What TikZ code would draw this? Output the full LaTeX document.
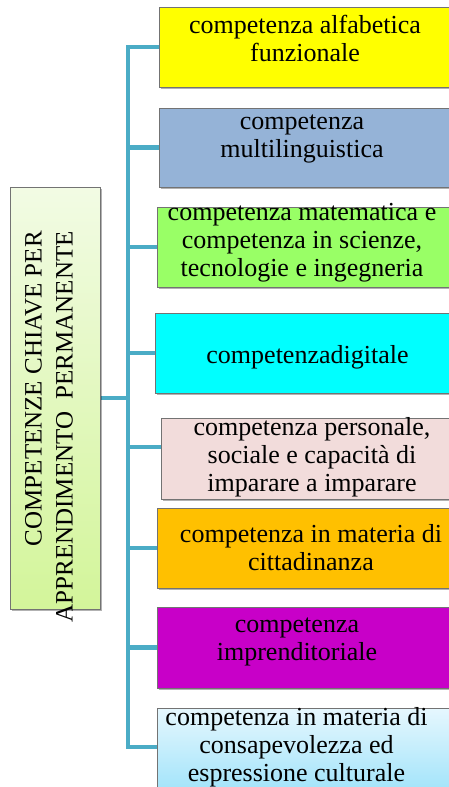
\documentclass[tikz,border=0pt]{standalone}
\usepackage{fontspec}
\setmainfont{Liberation Serif}
\usetikzlibrary{shadows,backgrounds}

\definecolor{branchblue}{HTML}{4BACC6}
\definecolor{alfafill}{HTML}{FFFF00}
\definecolor{multifill}{HTML}{95B3D7}
\definecolor{matefill}{HTML}{99FF66}
\definecolor{digifill}{HTML}{00FFFF}
\definecolor{persfill}{HTML}{F2DCDB}
\definecolor{cittfill}{HTML}{FFC000}
\definecolor{imprfill}{HTML}{C800C8}
\definecolor{culttop}{HTML}{E6F7FE}
\definecolor{cultbottom}{HTML}{A3E4FA}
\definecolor{roottop}{HTML}{F2FBE4}
\definecolor{rootbottom}{HTML}{D3F59A}

\tikzset{
  compbox/.style={rectangle, draw=black!55, line width=0.8pt, minimum width=300pt,
    minimum height=80pt, inner sep=0pt,
    drop shadow={shadow xshift=1.5pt, shadow yshift=-2pt, opacity=0.3, fill=black}},
  comptext/.style={align=center, font=\fontsize{26}{28}\selectfont, inner sep=0pt},
  roottext/.style={align=right, rotate=90, font=\fontsize{25}{31}\selectfont, inner sep=0pt},
  branch/.style={draw=branchblue, line width=4.5pt, line cap=rect},
}

\begin{document}
\begin{tikzpicture}[x=1pt,y=1pt]
\useasboundingbox (0,0) rectangle (449,-787);

% root box
\node[compbox, minimum width=90pt, minimum height=422pt, top color=roottop, bottom color=rootbottom]
  (root) at (55,-398) {};
\node[roottext, anchor=east] (root-txt) at (49,-231) {COMPETENZE CHIAVE PER\\APPRENDIMENTO~~PERMANENTE};

% competence boxes (right edges run past the page)
\node[compbox, minimum width=298pt, fill=alfafill] (alfa) at (308,-47) {};
\node[compbox, minimum width=298pt, minimum height=79pt, fill=multifill] (multi) at (308,-147.5) {};
\node[compbox, fill=matefill] (mate) at (307,-247) {};
\node[compbox, minimum width=302pt, fill=digifill] (digi) at (306,-353) {};
\node[compbox, minimum width=296pt, minimum height=81pt, fill=persfill] (pers) at (309,-458.5) {};
\node[compbox, fill=cittfill] (citt) at (307,-548) {};
\node[compbox, minimum height=81pt, fill=imprfill] (impr) at (307,-647.5) {};
\node[compbox, minimum height=82pt, top color=culttop, bottom color=cultbottom] (cult) at (307,-749) {};

% texts
\foreach \name/\dx/\dy/\txt in {alfa/-3/9/{competenza alfabetica\\funzionale},
    multi/-6/8.5/{competenza\\multilinguistica},
    mate/-5/4/{competenza matematica e\\competenza in scienze,\\tecnologie e ingegneria},
    digi/1.5/-4/{competenzadigitale},
    pers/3/1.5/{competenza personale,\\sociale e capacità di\\imparare a imparare},
    citt/4/0/{competenza in materia di\\cittadinanza},
    impr/-10/5.5/{competenza\\imprenditoriale},
    cult/-10.5/2/{competenza in materia di\\consapevolezza ed\\espressione culturale}}{
  \node[comptext] (\name-txt) at ([xshift=\dx pt, yshift=\dy pt]\name.center) {\txt};
}

% connectors
\begin{scope}[on background layer]
\coordinate (trunk) at (128,0);
\foreach \name/\dy in {alfa/0, multi/0, mate/0, digi/0, pers/11.5, citt/0, impr/0, cult/2}{
  \coordinate (\name-in) at ([yshift=\dy pt]\name.west);
  \draw[branch] (\name-in) -- (\name-in -| trunk);
}
\draw[branch] (alfa-in -| trunk) -- (cult-in -| trunk);
\draw[branch] (root.east) -- (root.east -| trunk);
\end{scope}
\end{tikzpicture}
\end{document}
